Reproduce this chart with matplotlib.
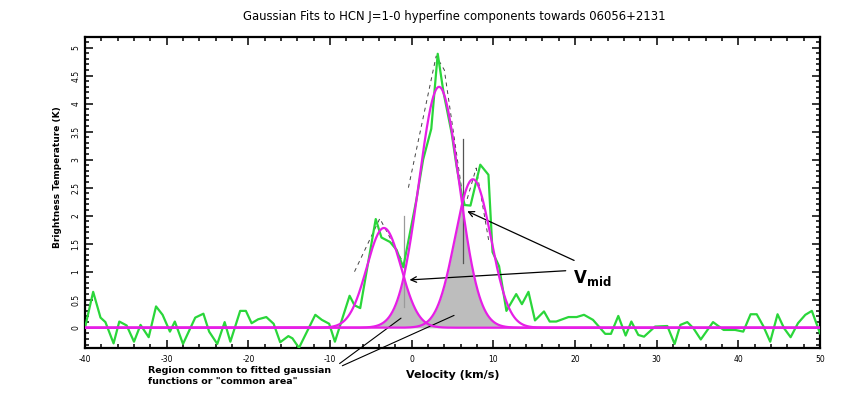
import numpy as np
import matplotlib
matplotlib.use('Agg')
import matplotlib.pyplot as plt
from matplotlib.ticker import MultipleLocator, FormatStrFormatter

plt.rcParams['axes.unicode_minus'] = False
plt.rcParams['font.family'] = ['DejaVu Sans']

# observed spectrum (km/s, K)
vel = [-40.0, -39.0, -38.1, -37.5, -36.5, -35.8, -34.9, -34.0, -33.2, -32.2,
       -31.3, -30.5, -29.6, -29.0, -28.0, -26.5, -25.5, -24.8, -23.8, -22.9,
       -22.2, -21.0, -20.3, -19.6, -18.8, -17.8, -16.9, -16.1, -15.1, -14.6,
       -13.8, -11.8, -11.0, -10.1, -9.4, -7.6, -7.0, -6.3, -4.4, -3.7,
       -2.65, -1.85, -1.03, -0.2, 0.6, 1.4, 2.4, 3.19, 3.9, 4.9,
       5.5, 6.1, 6.5, 7.2, 8.4, 9.4, 9.9, 10.7, 11.6, 12.8,
       13.5, 14.3, 15.1, 16.2, 16.9, 17.7, 19.2, 20.2, 21.1, 22.2,
       23.7, 24.4, 25.3, 26.2, 26.9, 27.75, 28.45, 29.8, 31.3, 32.2,
       32.9, 33.75, 34.5, 35.4, 36.9, 38.2, 39.6, 40.6, 41.5, 42.25,
       43.05, 43.9, 44.8, 45.6, 46.4, 47.3, 48.2, 49.0, 50.0]
tb = [0.0, 0.64, 0.18, 0.10, -0.28, 0.11, 0.04, -0.25, 0.05, -0.17,
      0.38, 0.23, -0.07, 0.11, -0.29, 0.18, 0.25, -0.07, -0.29, 0.10,
      -0.25, 0.30, 0.30, 0.08, 0.15, 0.19, 0.07, -0.26, -0.15, -0.19,
      -0.36, 0.23, 0.14, 0.07, -0.25, 0.57, 0.40, 0.35, 1.94, 1.61,
      1.53, 1.39, 1.08, 1.70, 2.30, 3.00, 3.55, 4.89, 4.20, 3.47,
      2.88, 2.40, 2.19, 2.18, 2.91, 2.73, 1.35, 1.10, 0.30, 0.60,
      0.42, 0.64, 0.13, 0.29, 0.11, 0.11, 0.19, 0.19, 0.23, 0.14,
      -0.11, -0.11, 0.21, -0.14, 0.11, -0.13, -0.16, 0.02, 0.03, -0.29,
      0.05, 0.10, -0.01, -0.21, 0.10, -0.04, -0.04, -0.07, 0.24, 0.24,
      0.03, -0.25, 0.24, -0.01, -0.17, 0.08, 0.23, 0.30, -0.10]

# fitted gaussian components
g_amp = [1.78, 4.30, 2.65]
g_cen = [-3.4, 3.35, 7.5]
g_sig = [2.1, 2.45, 2.2]

# dashed sketch of the overall profile
dash_v = [[-7.0, -3.9, -1.0], [-0.4, 3.0, 4.0, 6.1], [6.8, 7.9, 9.5]]
dash_t = [[1.0, 1.95, 1.15], [2.5, 4.85, 4.6, 2.5], [2.3, 2.85, 1.5]]

# vmid markers
vmid_v = [-1.0, 6.25]
vmid_lo = [0.37, 1.15]
vmid_hi = [2.0, 3.36]
vmid_col = ['#9a9a9a', '#555555']

fig = plt.figure(figsize=(8.62, 3.93), dpi=100)
ax = fig.add_axes([0.0986, 0.1145, 0.8527, 0.7914])

vv = np.linspace(-40, 50, 1801)
gs = [a * np.exp(-(vv - c) ** 2 / (2 * s ** 2)) for a, c, s in zip(g_amp, g_cen, g_sig)]

ax.fill_between(vv, 0, np.minimum(gs[0], gs[1]), color='#bdbdbd', lw=0, zorder=1)
ax.fill_between(vv, 0, np.minimum(gs[1], gs[2]), color='#bdbdbd', lw=0, zorder=1)

for dv, dt in zip(dash_v, dash_t):
    ax.plot(dv, dt, color='#444444', lw=0.7, dashes=(4, 4), zorder=2)

for x, lo, hi, c in zip(vmid_v, vmid_lo, vmid_hi, vmid_col):
    ax.plot([x, x], [lo, hi], color=c, lw=0.9, zorder=2)

ax.plot(vel, tb, color='#2ad63a', lw=1.6, zorder=3)
for g in gs:
    ax.plot(vv, g, color='#e61ee6', lw=1.6, zorder=4)

ax.set_xlim(-40, 50)
ax.set_ylim(-0.3625, 5.19)

ax.xaxis.set_major_locator(MultipleLocator(10))
ax.xaxis.set_minor_locator(MultipleLocator(2))
ax.yaxis.set_major_locator(MultipleLocator(0.5))
ax.yaxis.set_minor_locator(MultipleLocator(0.1))
ax.yaxis.set_major_formatter(FormatStrFormatter('%g'))
ax.tick_params(which='both', direction='in', top=True, right=True, width=1.1)
ax.tick_params(which='major', length=6, labelsize=5.5)
ax.tick_params(which='minor', length=3)
ax.tick_params(axis='x', pad=5)
for lab in ax.get_yticklabels():
    lab.set_rotation(90)
    lab.set_va('center')
for sp in ax.spines.values():
    sp.set_linewidth(1.6)

ax.set_xlabel('Velocity (km/s)', fontsize=8, fontweight='bold', labelpad=4)
ax.set_ylabel('Brightness Temperature (K)', fontsize=6.5, fontweight='bold')
ax.yaxis.set_label_coords(-0.031, 0.55)
fig.text(0.527, 0.957, 'Gaussian Fits to HCN J=1-0 hyperfine components towards 06056+2131',
         fontsize=8.4, ha='center', va='center')

# annotations
ax.annotate('', xy=(6.5, 2.1), xytext=(20.2, 1.18),
            arrowprops=dict(arrowstyle='->', color='black', lw=0.9))
ax.annotate('', xy=(-0.6, 0.85), xytext=(19.2, 1.02),
            arrowprops=dict(arrowstyle='->', color='black', lw=0.9))
ax.text(19.75, 0.8, r'$\mathbf{V}_{\mathbf{mid}}$', fontsize=12, va='baseline')

ax.annotate('', xy=(-1.03, 0.2), xytext=(-9.1, -0.67), annotation_clip=False,
            arrowprops=dict(arrowstyle='-', color='black', lw=0.8))
ax.annotate('', xy=(5.5, 0.24), xytext=(-8.8, -0.70), annotation_clip=False,
            arrowprops=dict(arrowstyle='-', color='black', lw=0.8))
fig.text(148 / 862, 1 - 366 / 393, 'Region common to fitted gaussian\nfunctions or "common area"',
         fontsize=6.8, fontweight='bold', va='top', ha='left', linespacing=1.25)

fig.savefig('out.png', dpi=100)
